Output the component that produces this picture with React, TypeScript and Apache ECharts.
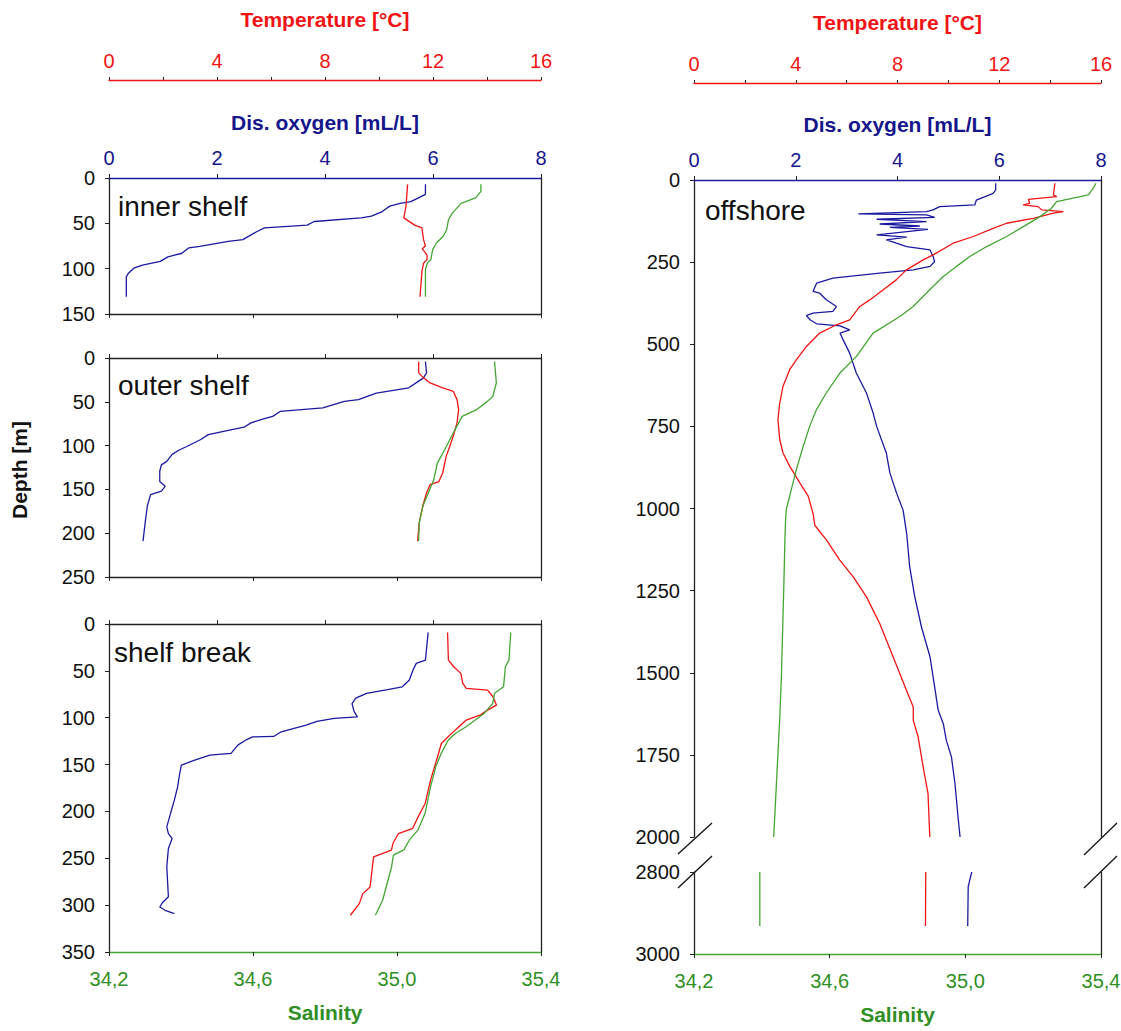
import React, { useEffect, useRef } from "react";
import * as echarts from "echarts";

// ---------- tick labels ----------
const oxygenTicks = [0, 2, 4, 6, 8];
const tempLabels = [0, 4, 8, 12, 16];
const salinityTicks = [34.2, 34.6, 35.0, 35.4];

// ---------- inner shelf [value, depth] ----------
const innerOxygen = [[5.86,7],[5.86,18],[5.59,26],[5.39,28],[5.2,31],[5.06,37],[4.86,42],[4.67,44],[3.8,48],[3.67,52],[2.88,55],[2.74,59],[2.48,68],[2.21,70],[1.68,75.5],[1.48,77],[1.35,83],[1.09,87],[0.95,92],[0.62,96],[0.46,99.5],[0.36,105],[0.32,109],[0.32,131]];
const innerTemp = [[11.06,7],[11.0,31],[10.92,44],[11.32,52],[11.59,55],[11.65,68],[11.72,75],[11.6,78],[11.78,85],[11.78,90],[11.65,94],[11.59,103],[11.52,131]];
const innerSal = [[35.233,7],[35.233,15],[35.218,22],[35.178,28],[35.153,39],[35.143,46],[35.138,57],[35.129,64],[35.109,72],[35.099,79],[35.094,90],[35.084,94],[35.079,101],[35.079,131]];

// ---------- outer shelf ----------
const outerOxygen = [[5.86,4],[5.88,17],[5.82,23],[5.72,27],[5.55,34],[4.95,40],[4.62,47.5],[4.36,49.5],[3.96,57],[3.17,61],[3.03,66.6],[2.83,70],[2.63,74],[2.5,79],[2.1,84],[1.84,87.5],[1.7,93],[1.44,101],[1.3,105],[1.17,110],[1.07,118],[0.97,122],[0.94,129],[0.94,141],[1.04,146.5],[0.97,152],[0.77,156],[0.71,169],[0.67,188],[0.63,209]];
const outerTemp = [[11.47,4],[11.47,17],[11.6,21],[11.89,28.5],[12.36,34],[12.75,38],[12.89,47.5],[12.95,59],[12.89,74],[12.75,89],[12.62,101],[12.49,112],[12.36,131],[12.22,141],[11.89,144.6],[11.76,154],[11.62,169],[11.49,188],[11.43,209]];
const outerSal = [[35.271,4],[35.276,28.5],[35.266,44],[35.251,49.5],[35.221,59],[35.181,66.6],[35.166,78],[35.152,89],[35.132,105],[35.112,120],[35.102,139],[35.087,154],[35.072,169],[35.062,188],[35.06,209]];

// ---------- shelf break ----------
const breakOxygen = [[5.91,9],[5.89,21],[5.86,38.5],[5.69,42],[5.63,49],[5.56,60],[5.43,67],[5.16,70],[4.77,74],[4.57,79],[4.5,85],[4.54,93.6],[4.6,99],[4.17,100.8],[3.85,104],[3.65,108],[3.19,115],[3.05,120],[2.66,120.5],[2.53,124],[2.39,129],[2.26,138],[1.87,140],[1.6,145],[1.34,150.6],[1.31,159.5],[1.27,174],[1.21,188],[1.14,202],[1.07,216.5],[1.1,223.6],[1.17,229],[1.1,239.6],[1.07,259],[1.09,280.6],[1.1,291],[1.0,296.6],[0.94,302],[1.04,305.5],[1.21,309]];
const breakTemp = [[12.54,9],[12.57,38.5],[12.77,45.6],[13.03,52.7],[13.1,63],[13.23,68.7],[14.02,70.5],[14.22,77.6],[14.35,86.5],[14.02,91.9],[13.76,97],[13.23,102.5],[12.83,113],[12.57,120],[12.31,127.5],[12.17,141.7],[11.91,166.6],[11.71,191.5],[11.45,205.8],[11.25,218],[10.72,223.6],[10.52,234],[10.46,241.4],[9.8,248.5],[9.67,280.6],[9.4,287.7],[9.27,298.4],[8.94,310.8]];
const breakSal = [[35.316,9],[35.311,38.5],[35.301,45.6],[35.296,67],[35.271,74],[35.266,84.7],[35.242,95.4],[35.192,109.7],[35.162,116.8],[35.142,124],[35.123,138],[35.108,152],[35.093,174],[35.078,202],[35.058,220],[35.034,230.7],[35.019,241],[34.99,246.7],[34.985,259],[34.97,280.6],[34.96,294.8],[34.94,310.8]];

// ---------- offshore (0-2000 m) ----------
const offOxygen = [[5.93,10],[5.93,30],[5.88,40.5],[5.55,61],[5.52,76],[4.83,81],[4.7,91],[4.57,96],[3.23,103],[4.57,106],[4.73,113.5],[3.59,119.5],[4.57,126.6],[3.65,134],[4.44,140],[3.85,144],[4.6,150],[3.59,167],[4.18,174],[3.78,182],[3.98,192.5],[4.18,202.6],[4.64,212.8],[4.7,233],[4.73,248],[4.64,263],[4.31,273.5],[3.65,283.7],[2.73,299],[2.41,314],[2.34,339],[2.47,344.5],[2.6,364.7],[2.8,385],[2.73,400],[2.34,405],[2.21,413],[2.28,425.5],[2.41,437.7],[2.87,443.8],[3.06,456],[2.87,466],[2.93,486],[3.06,527],[3.19,587.6],[3.39,648.4],[3.52,709],[3.59,750],[3.78,831],[3.85,891.6],[3.98,952.4],[4.11,1005],[4.18,1076],[4.24,1178],[4.34,1269],[4.47,1360],[4.64,1452],[4.73,1543],[4.8,1614],[4.9,1655],[4.96,1706],[5.06,1756],[5.13,1838],[5.19,1939],[5.23,2000]];
const offTemp = [[14.19,10],[14.13,45.6],[14.26,50.6],[13.14,58.8],[13.2,71],[12.94,76],[13.53,81],[13.67,91],[14.52,96],[14.13,101],[13.34,116.5],[12.29,131.7],[11.76,147],[10.98,172],[10.19,192.5],[9.4,228],[9.01,243],[8.35,273.5],[7.95,304],[7.44,334],[6.91,365],[6.52,385],[6.12,425.5],[5.6,440.7],[4.94,466],[4.42,506.6],[4.03,547],[3.76,577.5],[3.5,628],[3.37,679],[3.3,729.5],[3.37,790],[3.5,831],[3.76,871],[4.16,922],[4.49,962.5],[4.68,1015],[4.75,1051],[5.21,1096],[5.73,1157],[6.26,1208],[6.78,1269],[7.3,1350],[7.83,1452],[8.35,1553],[8.62,1604],[8.62,1645],[8.81,1695],[9.01,1787],[9.2,1868],[9.27,2000]];
const offSal = [[35.385,10],[35.377,25],[35.363,45.6],[35.269,66],[35.254,86],[35.22,111.5],[35.171,142],[35.122,172],[35.063,202.6],[35.013,233],[34.974,263],[34.935,294],[34.895,334],[34.846,385],[34.807,415.4],[34.728,466],[34.679,537],[34.63,587.6],[34.59,648.4],[34.561,699],[34.541,750],[34.522,810.5],[34.502,881],[34.487,942],[34.472,1003],[34.47,1036],[34.468,1096],[34.465,1228],[34.461,1381],[34.458,1503],[34.453,1635],[34.443,1838],[34.435,2000]];

// ---------- offshore (2800-3000 m) ----------
const deepOxygen = [[5.46,2800],[5.42,2820],[5.39,2836],[5.38,2932]];
const deepTemp = [[9.11,2800],[9.1,2932]];
const deepSal = [[34.394,2800],[34.394,2932]];

const FONT = '"Liberation Sans", Arial, sans-serif';
const BLUE = "#1a1aa0";
const BLUE_TXT = "#15158c";
const RED = "#f01414";
const GREEN = "#44a632";
const GREEN_TXT = "#2f8f25";
const BLACK = "#222";
const TICK_FS = 20;
const TITLE_FS = 21;

function App() {
  const ref = useRef<HTMLDivElement>(null);
  useEffect(() => {
    if (!ref.current) return;
    const chart = echarts.init(ref.current, null, { renderer: "svg" });

    const grids = [
      { left: 109, top: 178, width: 432, height: 136 },
      { left: 109, top: 358, width: 432, height: 219 },
      { left: 109, top: 624, width: 432, height: 328 },
      { left: 694, top: 180, width: 407, height: 657 },
      { left: 694, top: 872, width: 407, height: 82 },
    ].map((g) => ({ ...g, containLabel: false, outerBoundsMode: "none" }));

    const lbl = (color: string, margin: number) => ({
      show: true, color, fontSize: TICK_FS, fontFamily: FONT, margin,
    });
    const nameStyle = (color: string) => ({
      color, fontSize: TITLE_FS, fontWeight: "bold", fontFamily: FONT,
    });

    const oxyAxis = (gi: number, mode: "blue" | "black" | "hide") => ({
      type: "value", gridIndex: gi, position: "top", min: 0, max: 8, interval: 2,
      show: mode !== "hide",
      axisLine: { show: true, onZero: false, lineStyle: { color: mode === "blue" ? BLUE : BLACK, width: 1.3 } },
      axisTick: { show: true, length: 4, customValues: oxygenTicks, lineStyle: { color: BLACK } },
      axisLabel: mode === "blue" ? lbl(BLUE_TXT, 10) : { show: false },
      splitLine: { show: false },
      name: mode === "blue" ? "Dis. oxygen [mL/L]" : "",
      nameLocation: "middle", nameGap: 45, nameTextStyle: nameStyle(BLUE_TXT),
    });
    const tempAxis = (gi: number, show: boolean, offset: number) => ({
      type: "value", gridIndex: gi, position: "top", min: 0, max: 16, interval: 2,
      show, offset,
      axisLine: { show: true, onZero: false, lineStyle: { color: RED, width: 1.3 } },
      axisTick: { show: true, length: 3, lineStyle: { color: BLACK } },
      axisLabel: { ...lbl(RED, 9), customValues: tempLabels },
      splitLine: { show: false },
      name: show ? "Temperature [°C]" : "",
      nameLocation: "middle", nameGap: 50, nameTextStyle: nameStyle(RED),
    });
    const salAxis = (gi: number, mode: "green" | "black" | "hide") => ({
      type: "value", gridIndex: gi, position: "bottom", min: 34.2, max: 35.4,
      show: mode !== "hide",
      axisLine: { show: true, onZero: false, lineStyle: { color: mode === "green" ? GREEN : BLACK, width: 1.3 } },
      axisTick: { show: true, length: 4, customValues: salinityTicks, lineStyle: { color: BLACK } },
      axisLabel: mode === "green"
        ? { ...lbl(GREEN_TXT, 17), customValues: salinityTicks, formatter: (v: number) => v.toFixed(1).replace(".", ",") }
        : { show: false },
      splitLine: { show: false },
      name: mode === "green" ? "Salinity" : "",
      nameLocation: "middle", nameGap: 50, nameTextStyle: nameStyle(GREEN_TXT),
    });

    const xAxis = [
      oxyAxis(0, "blue"), tempAxis(0, true, 98), salAxis(0, "black"),
      oxyAxis(1, "black"), tempAxis(1, false, 0), salAxis(1, "black"),
      oxyAxis(2, "black"), tempAxis(2, false, 0), salAxis(2, "green"),
      oxyAxis(3, "blue"), tempAxis(3, true, 97), salAxis(3, "hide"),
      oxyAxis(4, "hide"), tempAxis(4, false, 0), salAxis(4, "green"),
    ];

    const leftY = (gi: number, min: number, max: number, interval: number, margin: number) => ({
      type: "value", gridIndex: gi, position: "left", inverse: true, min, max, interval,
      axisLine: { show: true, onZero: false, lineStyle: { color: BLACK, width: 1.3 } },
      axisTick: { show: true, length: 4, lineStyle: { color: BLACK } },
      axisLabel: { ...lbl("#111", margin), formatter: (v: number) => String(v) },
      splitLine: { show: false },
    });
    const rightY = (gi: number, min: number, max: number) => ({
      type: "value", gridIndex: gi, position: "right", inverse: true, min, max,
      axisLine: { show: true, onZero: false, lineStyle: { color: BLACK, width: 1.3 } },
      axisTick: { show: false }, axisLabel: { show: false }, splitLine: { show: false },
    });
    const yAxis = [
      leftY(0, 0, 150, 50, 14), rightY(0, 0, 150),
      leftY(1, 0, 250, 50, 14), rightY(1, 0, 250),
      leftY(2, 0, 350, 50, 14), rightY(2, 0, 350),
      leftY(3, 0, 2000, 250, 14), rightY(3, 0, 2000),
      leftY(4, 2800, 3000, 200, 14), rightY(4, 2800, 3000),
    ];

    const line = (data: number[][], xi: number, yi: number, color: string) => ({
      type: "line", data, xAxisIndex: xi, yAxisIndex: yi, showSymbol: false, symbol: "none",
      lineStyle: { color, width: 1.3 }, itemStyle: { color }, silent: true, z: 3,
    });
    const series = [
      line(innerOxygen, 0, 0, BLUE), line(innerTemp, 1, 0, RED), line(innerSal, 2, 0, GREEN),
      line(outerOxygen, 3, 2, BLUE), line(outerTemp, 4, 2, RED), line(outerSal, 5, 2, GREEN),
      line(breakOxygen, 6, 4, BLUE), line(breakTemp, 7, 4, RED), line(breakSal, 8, 4, GREEN),
      line(offOxygen, 9, 6, BLUE), line(offTemp, 10, 6, RED), line(offSal, 11, 6, GREEN),
      line(deepOxygen, 12, 8, BLUE), line(deepTemp, 13, 8, RED), line(deepSal, 14, 8, GREEN),
    ];

    const panelText = (text: string, x: number, y: number) => ({
      type: "text", x, y, silent: true,
      style: { text, font: `28px ${FONT}`, fill: "#111", verticalAlign: "middle", align: "left" },
    });
    const slash = (x1: number, y1: number, x2: number, y2: number) => ({
      type: "line", silent: true, shape: { x1, y1, x2, y2 },
      style: { stroke: "#111", lineWidth: 1.3 },
    });
    const graphic = [
      panelText("inner shelf", 118, 206),
      panelText("outer shelf", 118, 385),
      panelText("shelf break", 114, 652),
      panelText("offshore", 705, 210),
      {
        type: "text", x: 19, y: 470, rotation: Math.PI / 2, silent: true,
        style: { text: "Depth [m]", font: `bold ${TITLE_FS}px ${FONT}`, fill: "#111", align: "center", verticalAlign: "middle" },
      },
      slash(678, 854, 712, 823),
      slash(678, 888, 712, 856),
      slash(1084, 855, 1117, 823),
      slash(1084, 888, 1117, 856),
    ];

    chart.setOption({
      animation: false,
      backgroundColor: "#fff",
      textStyle: { fontFamily: FONT },
      grid: grids,
      xAxis,
      yAxis,
      series,
      graphic,
    });
    return () => chart.dispose();
  }, []);
  return (
    <div
      ref={ref}
      style={{ position: "fixed", left: 0, top: 0, width: 1121, height: 1031, background: "#fff" }}
    />
  );
}

export default App;
